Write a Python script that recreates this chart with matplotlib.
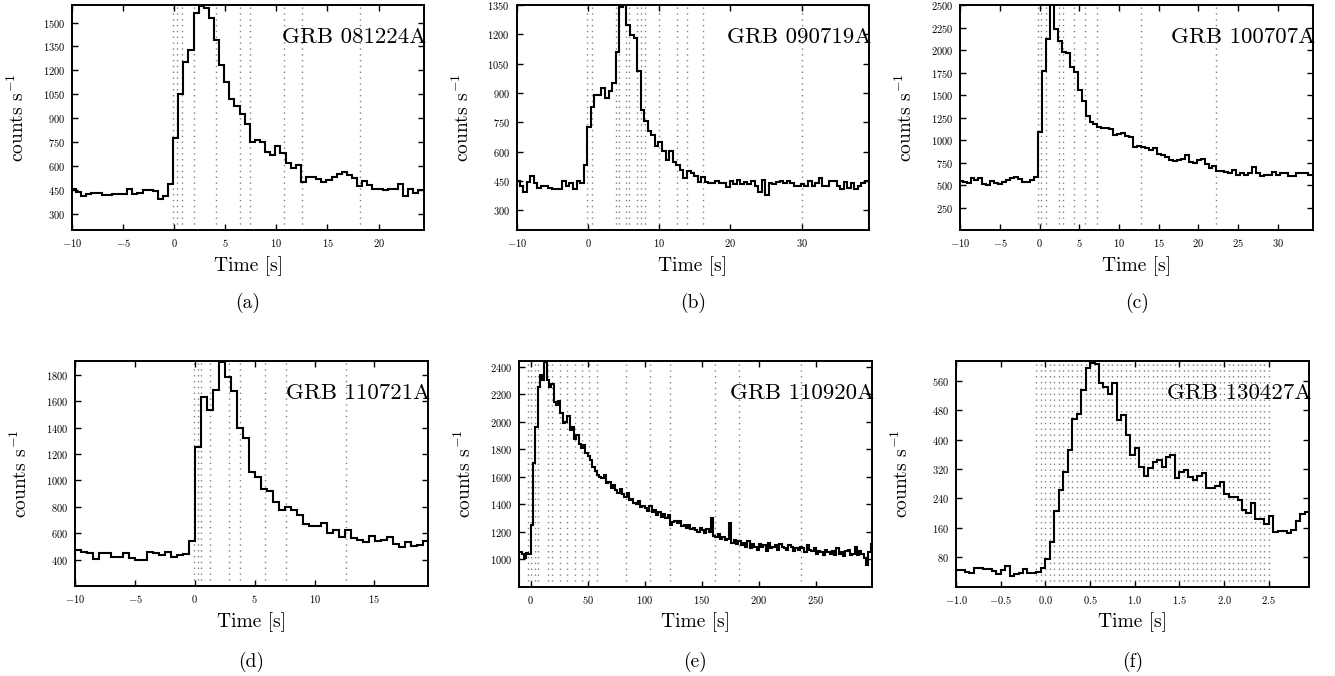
import numpy as np
import matplotlib.pyplot as plt

plt.rcParams['font.family'] = 'serif'
plt.rcParams['font.serif'] = ['cmr10']
plt.rcParams['mathtext.fontset'] = 'cm'
plt.rcParams['axes.formatter.use_mathtext'] = True

grb_names = ['GRB 081224A', 'GRB 090719A', 'GRB 100707A',
             'GRB 110721A', 'GRB 110920A', 'GRB 130427A']
panel_tags = ['(a)', '(b)', '(c)', '(d)', '(e)', '(f)']

# light curves: start of first bin [s], bin width [s], rate [counts/s]
a_t0, a_dt = -10.1, 0.5
a_rate = [455, 440, 410, 425, 435, 435, 420, 420, 425, 425, 425, 455, 425, 435, 450, 450, 445, 395, 415,
          490, 775, 1050, 1250, 1325, 1560, 1605, 1590, 1530, 1390, 1235, 1130, 1020, 980, 930, 865,
          750, 765, 750, 690, 670, 725, 680, 620, 590, 605, 500, 535, 530, 520, 500, 515, 530, 550,
          565, 545, 525, 475, 505, 485, 460, 455, 450, 455, 455, 490, 415, 460, 435, 450, 450]
a_cuts = [-0.15, 0.3, 0.8, 1.9, 4.1, 6.4, 7.45, 10.75, 12.5, 18.2]

b_t0, b_dt = -10.1, 0.5
b_rate = [450, 424, 393, 444, 475, 441, 416, 424, 424, 416, 410, 410, 412, 450, 424, 441, 410, 450, 441,
          531, 727, 828, 888, 891, 925, 874, 908, 951, 1112, 1342, 1350, 1248, 1197, 1180, 1015, 815,
          755, 704, 687, 628, 649, 602, 560, 602, 548, 534, 509, 466, 500, 492, 475, 444, 472, 444,
          441, 441, 450, 441, 441, 421, 450, 433, 458, 436, 444, 433, 450, 427, 393, 455, 381, 441,
          436, 444, 450, 438, 450, 438, 427, 424, 436, 427, 450, 424, 438, 467, 427, 424, 450, 450,
          424, 410, 444, 416, 441, 410, 424, 441, 450]
b_cuts = [-0.2, 0.6, 3.9, 4.4, 5.3, 5.8, 6.9, 7.4, 8.0, 10.0, 12.5, 13.9, 16.2, 30.0]

c_t0, c_dt = -10.21, 0.5
c_rate = [540, 536, 517, 573, 554, 573, 510, 499, 547, 525, 506, 536, 554, 573, 591, 562, 536, 536, 554, 590,
          1092, 1766, 2122, 2560, 2229, 2103, 1981, 1970, 1814, 1759, 1555, 1432, 1266, 1203, 1177,
          1147, 1129, 1129, 1118, 1054, 1066, 1080, 1043, 1036, 917, 932, 925, 906, 888, 906, 843,
          832, 814, 776, 769, 776, 784, 832, 758, 740, 776, 784, 732, 684, 710, 658, 658, 647, 628,
          666, 610, 636, 610, 636, 695, 636, 599, 610, 610, 647, 610, 636, 636, 599, 599, 628, 636,
          628, 610, 615]
c_cuts = [-0.2, 0.2, 0.8, 2.4, 3.0, 4.3, 5.7, 7.2, 12.8, 22.2]

d_t0, d_dt = -9.97, 0.5
d_rate = [471, 455, 450, 408, 452, 448, 420, 420, 452, 415, 400, 398, 455, 452, 438, 458, 418, 435, 443,
          539, 1250, 1631, 1530, 1686, 1900, 1780, 1674, 1401, 1318, 1061, 1023, 937, 917, 834, 778,
          798, 773, 740, 670, 652, 652, 677, 602, 627, 571, 622, 564, 551, 534, 582, 544, 551, 569,
          521, 496, 531, 501, 513, 544]
d_cuts = [-0.05, 0.25, 0.5, 1.3, 2.85, 3.8, 5.9, 7.65, 12.6]

e_t0, e_dt = -10.0, 2.0
e_rate = [1050, 1040, 1005, 1045, 1040, 1250, 1700, 1960, 2250, 2340, 2300, 2430,
          2300, 2250, 2270, 2140, 2120, 2150, 2060, 1990, 2000,
          2040, 1940, 1960, 1870, 1900, 1840, 1810, 1830, 1770,
          1750, 1720, 1670, 1640, 1610,
          1600, 1590, 1610, 1550, 1560, 1520, 1540, 1500, 1480, 1510,
          1470, 1450, 1480, 1430, 1440, 1410, 1400, 1420, 1380, 1390,
          1370, 1350, 1390, 1340, 1360, 1320, 1340, 1310, 1330, 1300, 1320,
          1250, 1270, 1280, 1260, 1280, 1240, 1250, 1230, 1250, 1220, 1230, 1210, 1200, 1230, 1210,
          1190, 1220, 1200,
          1300, 1170, 1160, 1180, 1150, 1160, 1140, 1150,
          1260, 1120, 1140, 1110, 1130, 1100, 1120, 1090, 1130, 1080, 1110, 1090, 1070,
          1110, 1090, 1100, 1060, 1120, 1080, 1090, 1100, 1070, 1110, 1090, 1080, 1070, 1100, 1090,
          1060, 1080, 1070, 1090, 1080, 1050, 1100, 1070, 1060, 1080,
          1040, 1060, 1050, 1030, 1070, 1050, 1040, 1060, 1030, 1080, 1040, 1050, 1020, 1060, 1070,
          1030, 1040, 1090, 1030, 1060, 1040, 1010,
          960, 1050, 1110]
e_cuts = [-2.5, 0.5, 3.5, 6.5, 15.0, 18.5, 25.5, 32.0, 38.5, 45.0, 51.0, 58.5, 83.5, 105.0, 122.0,
          161.5, 182.7, 236.8]

f_t0, f_dt = -1.0, 0.05
f_rate = [45, 45, 40, 38, 50, 50, 47, 47, 42, 35, 45, 55, 30, 35, 37, 48, 36, 36, 40,
          50, 75, 121, 207, 262, 312, 373, 457, 471, 535, 594, 609, 605, 555, 544, 525, 553, 453,
          466, 414, 357, 377, 325, 300, 323, 339, 345, 325, 353, 357, 296, 312, 317, 298, 291, 300,
          309, 269, 269, 275, 284, 251, 245, 244, 235, 209, 200, 227, 185, 185, 171, 191, 148, 151,
          151, 145, 153, 180, 198, 203, 203]
f_cuts = [-0.10, -0.05, 0.00, 0.05, 0.10, 0.15, 0.20, 0.25, 0.30, 0.35, 0.40, 0.45, 0.50, 0.55,
          0.60, 0.65, 0.70, 0.75, 0.80, 0.85, 0.90, 0.95, 1.00, 1.05, 1.10, 1.15, 1.20, 1.25,
          1.30, 1.35, 1.40, 1.45, 1.50, 1.55, 1.60, 1.65, 1.70, 1.75, 1.80, 1.85, 1.90, 1.95,
          2.00, 2.05, 2.10, 2.15, 2.20, 2.25, 2.30, 2.35, 2.40, 2.45, 2.50]

curves = [(a_t0, a_dt, a_rate, a_cuts), (b_t0, b_dt, b_rate, b_cuts), (c_t0, c_dt, c_rate, c_cuts),
          (d_t0, d_dt, d_rate, d_cuts), (e_t0, e_dt, e_rate, e_cuts), (f_t0, f_dt, f_rate, f_cuts)]

xlims = [(-10, 24.45), (-10, 39.5), (-10, 34.5), (-10, 19.45), (-10.3, 299), (-1.0, 2.95)]
ylims = [(200, 1610), (200, 1350), (0, 2500), (200, 1905), (800, 2440), (0, 614)]
xticks = [[-10, -5, 0, 5, 10, 15, 20], [-10, 0, 10, 20, 30], [-10, -5, 0, 5, 10, 15, 20, 25, 30],
          [-10, -5, 0, 5, 10, 15], [0, 50, 100, 150, 200, 250], [-1.0, -0.5, 0.0, 0.5, 1.0, 1.5, 2.0, 2.5]]
yticks = [[300, 450, 600, 750, 900, 1050, 1200, 1350, 1500],
          [300, 450, 600, 750, 900, 1050, 1200, 1350],
          [250, 500, 750, 1000, 1250, 1500, 1750, 2000, 2250, 2500],
          [400, 600, 800, 1000, 1200, 1400, 1600, 1800],
          [1000, 1200, 1400, 1600, 1800, 2000, 2200, 2400],
          [80, 160, 240, 320, 400, 480, 560]]

# axes boxes in pixels: left, top, right, bottom
W, H = 1335, 676
boxes = [(72, 5, 424, 230), (516.7, 5, 869.3, 230), (960.3, 5, 1313.3, 230),
         (75, 361, 427.7, 586), (519, 361, 871.7, 586.7), (956, 361, 1309, 586.7)]

fig = plt.figure(figsize=(W / 100, H / 100), dpi=100)

for i in range(6):
    l, t, r, b = boxes[i]
    ax = fig.add_axes([l / W, 1 - b / H, (r - l) / W, (b - t) / H])
    t0, dt, rate, cuts = curves[i]
    edges = t0 + dt * np.arange(len(rate) + 1)

    for c in cuts:
        ax.axvline(c, color='0.5', lw=1.0, linestyle=(0, (1, 3.2)), zorder=1)
    ax.stairs(rate, edges, color='k', lw=1.5, zorder=3)

    ax.set_xlim(xlims[i])
    ax.set_ylim(ylims[i])
    ax.set_xticks(xticks[i])
    ax.set_yticks(yticks[i])
    ax.tick_params(direction='in', top=True, right=True, length=4.5, width=1.0,
                   labelsize=7.5, pad=5)
    for s in ax.spines.values():
        s.set_linewidth(1.4)

    ax.set_xlabel('Time [s]', fontsize=14)
    ax.set_ylabel(r'counts s$^{-1}$', fontsize=14)
    ax.xaxis.set_label_coords(0.5, -0.115)
    ax.yaxis.set_label_coords(-0.125, 0.5)

    ax.text(1.006, 0.855, grb_names[i], transform=ax.transAxes, ha='right', va='center',
            fontsize=16.5, zorder=5)

    row_y = 1 - 303 / H if i < 3 else 1 - 662 / H
    fig.text((l + r) / 2 / W, row_y, panel_tags[i], ha='center', va='center', fontsize=14)

fig.savefig('out.png', dpi=100)
